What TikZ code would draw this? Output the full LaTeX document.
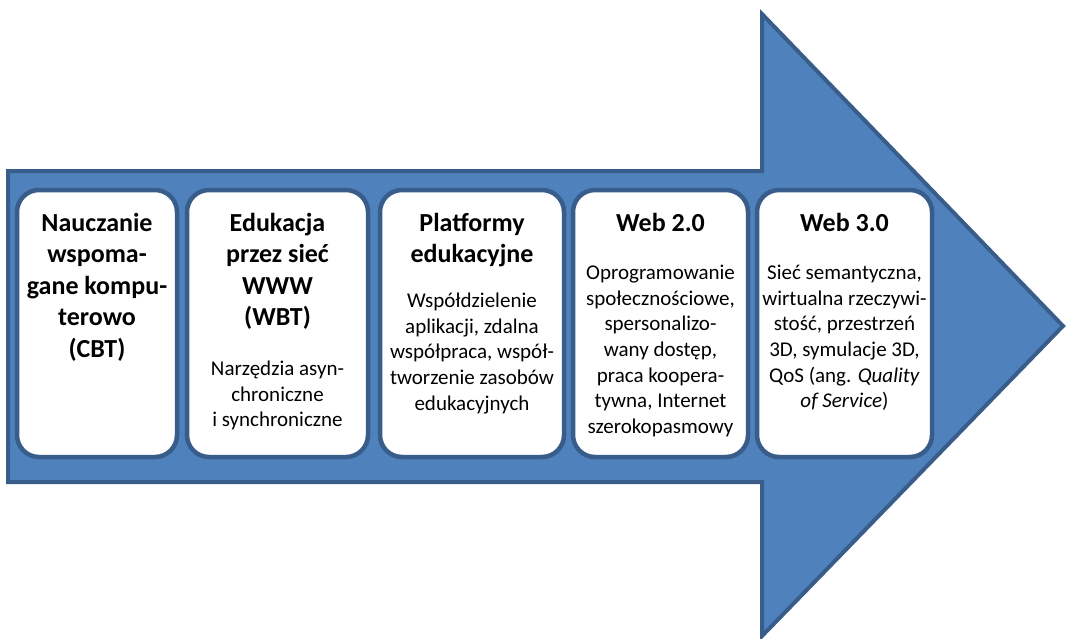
\documentclass[tikz,border=0pt]{standalone}
\usepackage{fontspec}
\setmainfont{Carlito}
\definecolor{arrowfill}{HTML}{4F81BD}
\definecolor{edgeblue}{HTML}{385D8A}
\begin{document}
\begin{tikzpicture}[x=1pt,y=-1pt,
  stage/.style={draw=edgeblue,fill=white,line width=4.5pt,rounded corners=22pt,minimum height=267pt,inner sep=0pt},
  ttl/.style={anchor=north,align=center,inner sep=0pt,font=\fontsize{26}{31.5}\selectfont\bfseries},
  bdy/.style={anchor=north,align=center,inner sep=0pt,font=\fontsize{21}{25.6}\selectfont}]
\useasboundingbox (0,0) rectangle (1067,638);
% big arrow
\draw[fill=arrowfill,draw=edgeblue,line width=4pt,line join=miter]
  (8,171) -- (762,171) -- (762,14) -- (1063,326) -- (762,636) -- (762,482) -- (8,482) -- cycle;
% boxes
\node[stage,minimum width=160pt] (b1) at (97,323.5) {};
\node[stage,minimum width=181pt] (b2) at (277.5,323.5) {};
\node[stage,minimum width=184pt] (b3) at (472,323.5) {};
\node[stage,minimum width=175pt] (b4) at (660.5,323.5) {};
\node[stage,minimum width=175pt] (b5) at (844.5,323.5) {};
% titles
\node[ttl] (t1) at (97,213) {Nauczanie\\wspoma-\\gane kompu-\\terowo\\(CBT)};
\node[ttl] (t2) at (277.5,213) {Edukacja\\przez sieć\\WWW\\(WBT)};
\node[ttl] (t3) at (472,213) {Platformy\\edukacyjne};
\node[ttl] (t4) at (660.5,213) {Web 2.0};
\node[ttl] (t5) at (844.5,213) {Web 3.0};
% bodies
\node[bdy] (d2) at (277.5,361) {Narzędzia asyn-\\chroniczne\\i synchroniczne};
\node[bdy] (d3) at (472,293) {Współdzielenie\\aplikacji, zdalna\\współpraca, współ-\\tworzenie zasobów\\edukacyjnych};
\node[bdy] (d4) at (660.5,265) {Oprogramowanie\\społecznościowe,\\spersonalizo-\\wany dostęp,\\praca koopera-\\tywna, Internet\\szerokopasmowy};
\node[bdy] (d5) at (844.5,265) {Sieć semantyczna,\\wirtualna rzeczywi-\\stość, przestrzeń\\3D, symulacje 3D,\\QoS (ang. \textit{Quality}\\\textit{of Service})};
\end{tikzpicture}
\end{document}
